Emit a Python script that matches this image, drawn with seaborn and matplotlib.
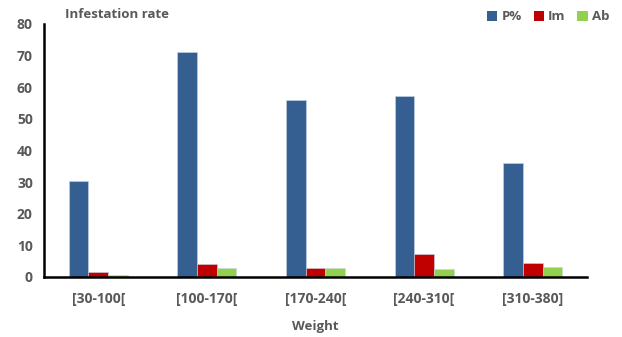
import matplotlib
matplotlib.use("Agg")
import matplotlib.pyplot as plt
import seaborn as sns
import pandas as pd
from matplotlib.patches import Patch

weights = ["[30-100[", "[100-170[", "[170-240[", "[240-310[", "[310-380]"]
prevalence = [30.2, 71.0, 56.0, 57.2, 36.0]
intensity = [1.5, 4.1, 2.8, 7.4, 4.3]
abundance = [0.6, 2.7, 2.8, 2.5, 3.2]
series = ["P%", "Im", "Ab"]
colors = ["#355F91", "#C00000", "#92D050"]

df = pd.DataFrame({
    "Weight": weights * 3,
    "value": prevalence + intensity + abundance,
    "series": [s for s in series for _ in weights],
})

sns.set_style("white")
plt.rcParams["font.family"] = ["Open Sans", "DejaVu Sans"]
plt.rcParams["font.weight"] = "bold"
text_color = "#595959"

fig = plt.figure(figsize=(6.22, 3.37), dpi=100)
ax = fig.add_axes([44 / 622, 1 - 277 / 337, (587 - 44) / 622, (277 - 24) / 337])

sns.barplot(data=df, x="Weight", y="value", hue="series", hue_order=series,
            palette=colors, width=0.545, gap=0, ax=ax, legend=False,
            edgecolor="#c8d4e6", linewidth=0.4, saturation=1)

ax.set_xlim(-0.5, len(weights) - 0.5)
ax.set_ylim(0, 80)
ax.set_yticks(range(0, 81, 10))
ax.set_xticks([i - 0.5 for i in range(len(weights) + 1)], minor=True)
ax.tick_params(axis="x", which="major", length=0, pad=11, labelsize=10, labelcolor=text_color)
ax.tick_params(axis="x", which="minor", direction="in", length=4, width=1.5, color="black")
ax.tick_params(axis="y", direction="in", length=4, width=1.5, color="black",
               labelsize=10, labelcolor=text_color, pad=8)
for lab in ax.get_xticklabels() + ax.get_yticklabels():
    lab.set_fontweight("bold")

for side in ["top", "right"]:
    ax.spines[side].set_visible(False)
for side in ["left", "bottom"]:
    ax.spines[side].set_color("black")
    ax.spines[side].set_linewidth(1.8)

ax.set_xlabel("Weight", fontsize=9.5, fontweight="bold", color=text_color, labelpad=10)
ax.set_ylabel("")

fig.text(65 / 622, 1 - 14 / 337, "Infestation rate", fontsize=9.5, fontweight="bold",
         color=text_color, va="center", ha="left")

handles = [Patch(facecolor=c, edgecolor="none", label=s) for s, c in zip(series, colors)]
fig.legend(handles=handles, loc="center right", bbox_to_anchor=(616 / 622, 1 - 17 / 337),
           ncol=3, frameon=False, handlelength=0.8, handleheight=0.8, handletextpad=0.3,
           columnspacing=0.9, borderpad=0, prop={"size": 9.5, "weight": "bold"},
           labelcolor=text_color)

fig.savefig("out.png", dpi=100)
